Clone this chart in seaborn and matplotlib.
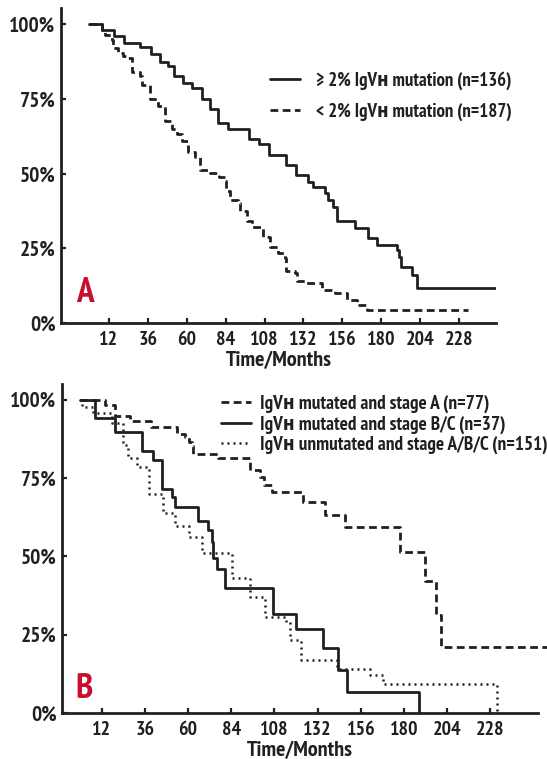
import os
import matplotlib
matplotlib.use("Agg")
import matplotlib.pyplot as plt
import seaborn as sns
import pandas as pd
from matplotlib import font_manager as fm
from matplotlib.lines import Line2D

# ---------------- data (months, % surviving) ----------------
# Panel A
a_mut_t = [0, 7.7, 15.3, 21.7, 31.0, 37.9, 43.3, 48.3, 52.4, 57.8, 63.4, 69.3, 74.2,
           79.4, 85.5, 98.5, 104.9, 111.0, 121.1, 127.6, 135.0, 138.1, 145.3, 147.3,
           150.4, 152.5, 163.8, 172.0, 177.5, 189.5, 190.9, 192.1, 198.7, 201.8, 251.0]
a_mut_s = [100, 98.0, 96.0, 93.9, 92.4, 90.2, 87.5, 86.1, 82.7, 80.3, 78.7, 75.1, 71.6,
           67.1, 64.9, 61.8, 60.1, 56.2, 52.8, 49.5, 47.3, 45.4, 43.4, 41.2,
           39.0, 34.3, 31.7, 28.4, 26.1, 24.4, 22.2, 18.7, 16.1, 11.8, 11.8]
a_unm_t = [0, 7.7, 9.7, 13.9, 14.9, 17.9, 21.0, 23.1, 26.2, 31.3, 32.3, 37.5, 42.6, 46.7,
           50.8, 53.9, 57.0, 61.1, 65.2, 68.3, 74.4, 80.2, 83.7, 84.3, 86.8, 91.9, 92.9,
           97.0, 100.1, 107.3, 111.4, 116.5, 120.6, 121.3, 126.8, 127.8, 133.0, 143.5,
           151.4, 158.7, 164.8, 171.0, 233.6]
a_unm_s = [100, 97.6, 96.4, 94.8, 92.0, 90.3, 89.5, 88.9, 84.2, 82.8, 79.7, 75.2, 72.8, 67.6,
           65.0, 63.2, 60.9, 57.4, 55.7, 51.2, 50.3, 49.0, 47.7, 44.2, 41.2, 40.3, 37.6,
           34.3, 32.0, 28.7, 25.4, 23.3, 21.7, 17.5, 16.8, 14.2, 13.3, 11.2,
           10.0, 7.7, 6.0, 4.4, 4.4]

# Panel B
b_mutA_t = [0, 13.9, 19.4, 27.8, 39.4, 53.7, 58.3, 60.6, 62.4, 63.0, 76.8, 94.6, 100.0,
            102.2, 106.5, 124.1, 136.1, 147.2, 177.8, 191.7, 197.8, 200.4, 260.0]
b_mutA_s = [100, 98.2, 94.7, 93.2, 91.1, 89.0, 87.9, 86.5, 85.2, 82.6, 81.4, 77.5, 75.2,
            72.7, 70.6, 67.4, 63.2, 59.2, 51.5, 42.2, 31.3, 21.0, 21.0]
b_mutBC_t = [0, 8.3, 19.4, 34.6, 40.7, 45.4, 50.9, 52.8, 65.4, 71.3, 73.3, 74.1, 75.9,
             80.6, 107.4, 120.0, 134.8, 143.1, 148.1, 188.5]
b_mutBC_s = [100, 94.0, 89.7, 83.6, 80.7, 71.5, 69.0, 65.6, 61.3, 58.4, 54.6, 49.3, 45.8,
             39.8, 31.6, 26.7, 20.6, 13.7, 6.8, 0]
b_unm_t = [0, 1.0, 7.0, 17.6, 24.0, 26.5, 31.5, 38.3, 46.3, 52.8, 60.6, 67.9, 84.3, 94.4,
           102.8, 114.4, 116.7, 122.6, 142.6, 161.1, 168.5, 231.5]
b_unm_s = [100, 97.7, 95.6, 92.4, 85.5, 81.4, 78.4, 69.8, 63.7, 59.6, 56.2, 51.1, 43.0, 37.1,
           30.7, 29.0, 23.3, 16.9, 13.9, 12.1, 9.1, 0]

x_ticks = [12, 36, 60, 84, 108, 132, 156, 180, 204, 228]
y_ticks = [0, 25, 50, 75, 100]
y_labels = ["0%", "25%", "50%", "75%", "100%"]

labels_a = ["\u2265 2% IgV\u029c mutation (n=136)", "< 2% IgV\u029c mutation (n=187)"]
labels_b = ["IgV\u029c mutated and stage A (n=77)",
            "IgV\u029c mutated and stage B/C (n=37)",
            "IgV\u029c unmutated and stage A/B/C (n=151)"]

# ---------------- style ----------------
sns.set_style("ticks")


def _wt(e):
    w = e.weight
    if isinstance(w, str):
        w = {"bold": 700, "heavy": 800, "black": 900, "extra bold": 800,
             "semibold": 600, "demibold": 600}.get(w.lower(), 400)
    return w


prio = ["narrow", "robotocondensed", "opensans-condbold", "opensans_condensed",
        "notosans-condensed", "notosans-extracondensed", "condensed", "cond"]
best, best_key = None, None
for e in fm.fontManager.ttflist:
    fn = os.path.basename(e.fname).lower()
    if _wt(e) < 700 or "italic" in fn or "oblique" in fn:
        continue
    if "mono" in fn or ("serif" in fn and "sans" not in fn):
        continue
    for i, p in enumerate(prio):
        if p in fn:
            key = (i, abs(_wt(e) - 800))
            if best_key is None or key < best_key:
                best, best_key = e, key
            break
if best is not None:
    plt.rcParams["font.family"] = [best.name, "DejaVu Sans"]
    plt.rcParams["font.stretch"] = best.stretch
    plt.rcParams["font.weight"] = best.weight
else:
    plt.rcParams["font.family"] = ["DejaVu Sans"]
    plt.rcParams["font.weight"] = "bold"
WEIGHT = plt.rcParams["font.weight"]

INK = "#231f20"
RED = "#c8102e"
LW = 2.0
SOLID = "-"
DASH = (0, (2.8, 1.6))
DOT = (0, (0.8, 1.6))

fig = plt.figure(figsize=(5.47, 7.59), dpi=100)
axA = fig.add_axes([0.1115, 0.5744, 0.7952, 0.4154])
axB = fig.add_axes([0.1133, 0.0606, 0.8702, 0.4337])


def km(ax, t, s, ls, lw=LW, clip=True):
    df = pd.DataFrame({"t": t, "s": s})
    sns.lineplot(data=df, x="t", y="s", ax=ax, drawstyle="steps-post", color=INK,
                 linewidth=lw, linestyle=ls, estimator=None, sort=False,
                 clip_on=clip)


km(axA, a_mut_t, a_mut_s, SOLID)
km(axA, a_unm_t, a_unm_s, DASH)
km(axB, b_mutA_t, b_mutA_s, DASH, clip=False)
km(axB, b_mutBC_t, b_mutBC_s, SOLID)
km(axB, b_unm_t, b_unm_s, DOT, lw=1.8)

letters = {}
for ax, xl, yl, let, lx, ly in [(axA, (-17.4, 250.6), (0, 105.6), "A", 0.0345, 0.066),
                                 (axB, (-10, 254.4), (0, 105), "B", 0.029, 0.046)]:
    ax.set_xlim(*xl)
    ax.set_ylim(*yl)
    ax.set_xticks(x_ticks)
    ax.set_xticklabels([str(v) for v in x_ticks], fontsize=13, fontweight=WEIGHT)
    ax.set_yticks(y_ticks)
    ax.set_yticklabels(y_labels, fontsize=13, fontweight=WEIGHT)
    ax.tick_params(axis="both", direction="in", length=3.5, width=1.6, colors=INK,
                   labelcolor=INK)
    ax.tick_params(axis="x", pad=6)
    ax.tick_params(axis="y", pad=4)
    for sp in ["top", "right"]:
        ax.spines[sp].set_visible(False)
    for sp in ["left", "bottom"]:
        ax.spines[sp].set_linewidth(2.0)
        ax.spines[sp].set_color(INK)
    ax.set_xlabel("Time/Months", fontsize=14, fontweight=WEIGHT, color=INK, labelpad=1)
    ax.set_ylabel("")
    letters[let] = ax.text(lx, ly, let, transform=ax.transAxes, fontsize=23,
                           fontweight=WEIGHT, color=RED, va="baseline", ha="left")

hA = [Line2D([], [], color=INK, lw=LW, ls=SOLID), Line2D([], [], color=INK, lw=LW, ls=DASH)]
hB = [Line2D([], [], color=INK, lw=LW, ls=DASH), Line2D([], [], color=INK, lw=LW, ls=SOLID),
      Line2D([], [], color=INK, lw=1.8, ls=DOT)]


def legends(sa, sb):
    la = axA.legend(hA, labels_a, loc="upper left",
                    bbox_to_anchor=(270 / 547, 1 - 71 / 759),
                    bbox_transform=fig.transFigure, frameon=False, borderpad=0,
                    borderaxespad=0, handlelength=30 * 0.72 / sa,
                    handletextpad=15.6 * 0.72 / sa,
                    labelspacing=12.5 * 0.72 / sa, prop={"size": sa, "weight": WEIGHT})
    lb = axB.legend(hB, labels_b, loc="upper left",
                    bbox_to_anchor=(221 / 547, 1 - 395 / 759),
                    bbox_transform=fig.transFigure, frameon=False, borderpad=0,
                    borderaxespad=0, handlelength=30 * 0.72 / sb,
                    handletextpad=8.5 * 0.72 / sb,
                    labelspacing=2.0 * 0.72 / sb, prop={"size": sb, "weight": WEIGHT})
    for leg in (la, lb):
        for txt in leg.get_texts():
            txt.set_color(INK)
    return la, lb


la, lb = legends(13, 13)
fig.canvas.draw()
r = fig.canvas.get_renderer()


def w(t):
    return t.get_window_extent(r).width


wa = w(la.get_texts()[0])
wb = max(w(t) for t in lb.get_texts())
la, lb = legends(13 * 196 / wa, 13 * 287 / wb)

# scale the other texts to the widths seen in the reference
ylab = [t for t in axA.get_yticklabels() if t.get_text() == "100%"][0]
xlab = [t for t in axA.get_xticklabels() if t.get_text() == "108"][0]
s_y = 13 * 46 / w(ylab)
s_x = 13 * 28.7 / w(xlab)
s_l = 14 * 106 / w(axA.xaxis.label)
s_A = 23 * 17.6 / w(letters["A"])
for ax in (axA, axB):
    ax.tick_params(axis="y", labelsize=s_y)
    ax.tick_params(axis="x", labelsize=s_x)
    ax.xaxis.label.set_fontsize(s_l)
for t in letters.values():
    t.set_fontsize(s_A)

fig.savefig("out.png", dpi=100)
